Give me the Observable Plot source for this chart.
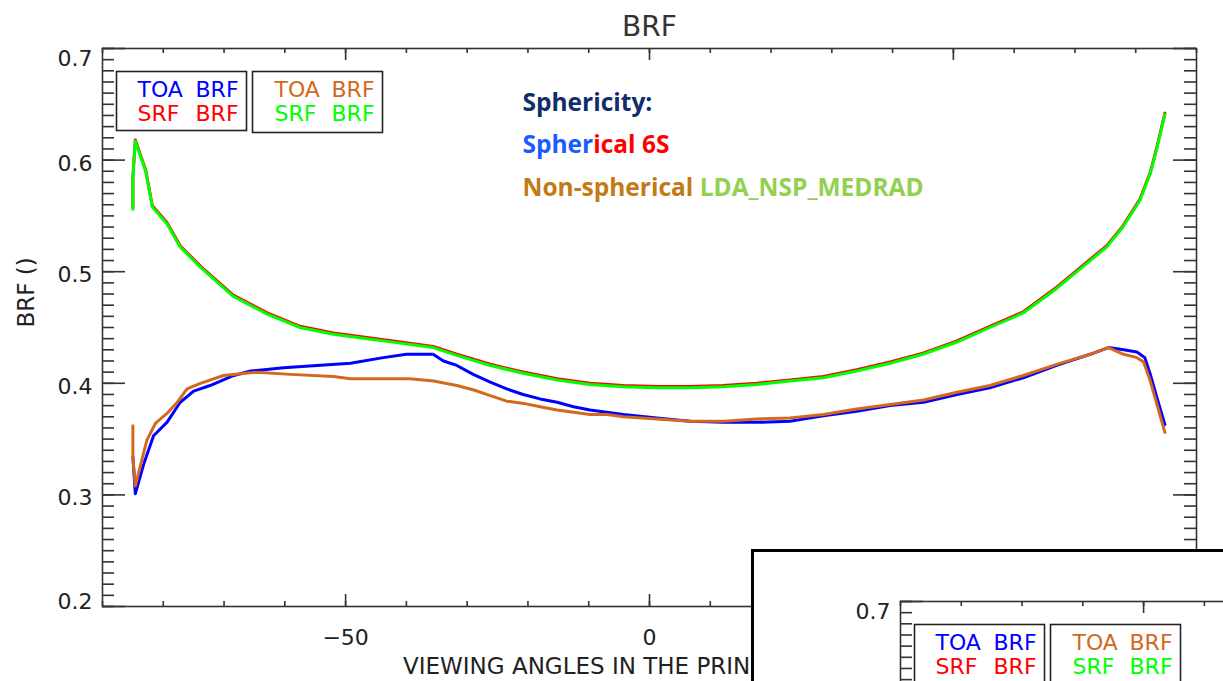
<!DOCTYPE html>
<html><head><meta charset="utf-8">
<script src="https://cdn.jsdelivr.net/npm/d3@7"></script>
<script src="https://cdn.jsdelivr.net/npm/@observablehq/plot@0.6"></script>
<style>
html,body{margin:0;padding:0;background:#fff;}
#wrap{position:relative;width:1223px;height:681px;overflow:hidden;background:#fff}
#main{position:absolute;left:0;top:0;width:1223px;height:681px}
#inset{position:absolute;left:751px;top:549px;width:600px;height:300px;border-left:3px solid #000;border-top:3px solid #000;background:#fff;overflow:hidden}
#insetInner{position:absolute;left:44px;top:1px;width:1223px;height:681px}
#wrap svg{max-width:none !important;width:1223px !important;height:681px !important;display:block}
</style></head><body>
<div id="wrap"><div id="main"></div><div id="inset"><div id="insetInner"></div></div></div>
<script>
// ---- data ----
const srfAngles = [-85.0, -85.0, -84.6, -82.9, -81.8, -79.4, -77.2, -73.9, -68.5, -62.9, -57.5, -52.0, -46.5, -41.0, -35.6, -31.7, -26.2, -20.8, -15.2, -9.8, -4.3, 1.2, 6.7, 12.1, 17.7, 23.1, 28.6, 34.1, 39.6, 45.0, 50.6, 56.0, 61.5, 67.0, 72.5, 75.2, 77.9, 80.7, 82.4, 83.5, 84.8];
const srfSpherical = [0.556, 0.584, 0.617, 0.590, 0.558, 0.543, 0.522, 0.504, 0.478, 0.462, 0.450, 0.444, 0.440, 0.436, 0.432, 0.425, 0.416, 0.409, 0.403, 0.399, 0.397, 0.396, 0.396, 0.397, 0.399, 0.402, 0.405, 0.411, 0.418, 0.426, 0.437, 0.450, 0.463, 0.485, 0.510, 0.522, 0.540, 0.564, 0.588, 0.611, 0.641];
const srfNonSpherical = [0.556, 0.584, 0.617, 0.590, 0.558, 0.543, 0.522, 0.504, 0.478, 0.462, 0.450, 0.444, 0.440, 0.436, 0.432, 0.425, 0.416, 0.409, 0.403, 0.399, 0.397, 0.396, 0.396, 0.397, 0.399, 0.402, 0.405, 0.411, 0.418, 0.426, 0.437, 0.450, 0.463, 0.485, 0.510, 0.522, 0.540, 0.564, 0.588, 0.611, 0.641];

const toaSphAngles = [-85.0, -84.6, -83.2, -81.6, -79.4, -77.2, -75.0, -72.3, -68.4, -65.6, -60.2, -54.7, -49.2, -43.8, -40.0, -35.6, -33.9, -31.7, -29.0, -26.2, -23.5, -20.8, -18.0, -15.2, -12.5, -9.8, -7.0, -4.3, 1.2, 6.7, 12.2, 17.7, 23.1, 28.6, 34.1, 39.6, 45.1, 50.6, 56.0, 61.5, 67.0, 72.5, 75.5, 78.0, 80.2, 81.5, 82.4, 83.5, 84.8];
const toaSpherical = [0.334, 0.301, 0.328, 0.353, 0.365, 0.383, 0.393, 0.398, 0.407, 0.411, 0.414, 0.416, 0.418, 0.423, 0.426, 0.426, 0.420, 0.416, 0.408, 0.401, 0.395, 0.390, 0.386, 0.383, 0.379, 0.376, 0.374, 0.372, 0.369, 0.366, 0.365, 0.365, 0.366, 0.371, 0.375, 0.380, 0.383, 0.390, 0.396, 0.405, 0.416, 0.426, 0.432, 0.430, 0.428, 0.423, 0.408, 0.387, 0.363];

const toaNspAngles = [-85.0, -85.0, -84.6, -82.7, -81.3, -79.4, -77.7, -76.1, -73.9, -70.1, -64.6, -59.1, -52.0, -49.2, -39.4, -35.5, -31.7, -28.9, -26.2, -23.5, -20.7, -18.0, -15.2, -12.5, -9.8, -7.0, -4.3, 1.2, 6.7, 12.2, 17.7, 23.1, 28.6, 34.1, 39.6, 45.1, 50.6, 56.0, 61.5, 67.0, 72.5, 75.5, 78.0, 80.2, 81.3, 82.4, 83.5, 84.8];
const toaNonSpherical = [0.362, 0.333, 0.308, 0.349, 0.364, 0.373, 0.383, 0.395, 0.400, 0.407, 0.410, 0.408, 0.406, 0.404, 0.404, 0.402, 0.398, 0.394, 0.389, 0.384, 0.382, 0.379, 0.376, 0.374, 0.372, 0.372, 0.370, 0.368, 0.366, 0.366, 0.368, 0.369, 0.372, 0.377, 0.381, 0.385, 0.392, 0.398, 0.407, 0.417, 0.426, 0.432, 0.426, 0.423, 0.419, 0.402, 0.381, 0.356];

const xTickLabels = [-50, 0, 50];
const yTickLabels = [0.2, 0.3, 0.4, 0.5, 0.6, 0.7];
const titleText = "BRF";
const xTitle = "VIEWING ANGLES IN THE PRINCIPAL PLANE";
const yTitle = "BRF ()";
const annHeading = "Sphericity:";
const annLine1 = ["Spher", "ical 6S"];
const annLine2 = ["Non-spherical", " LDA_NSP_MEDRAD"];

// ---- layout / style ----
const W = 1223, H = 681, ML = 102, MR = 27, MT = 48, MB = 75;
const PW = W - ML - MR, PH = H - MT - MB;
const AX = "#333";
const C = {blue: "#0000ff", red: "#ff0000", orange: "#d2691e", green: "#00ff00"};
const FONT = "DejaVu Sans";
const ANN_SIZE = 24.5;
const ANN_FONT = "Open Sans";

const measureCtx = document.createElement("canvas").getContext("2d");
function textWidth(s) {
  measureCtx.font = `bold ${ANN_SIZE}px "${ANN_FONT}"`;
  return measureCtx.measureText(s.replace(/^ /, "\u00a0")).width;
}

function series(xs, ys) { return xs.map((x, i) => ({x, y: ys[i]})); }

function chart() {
  const yMinor = d3.range(20, 71).map(d => d / 100);
  const xMinor = d3.range(-90, 91, 10);
  const marks = [];
  const tk = {stroke: AX, strokeWidth: 1.6};
  // y ticks, left & right, pointing inward
  marks.push(Plot.tickY(yMinor, {y: d => d, insetRight: PW - 12, ...tk}));
  marks.push(Plot.tickY(yTickLabels, {y: d => d, insetRight: PW - 23, ...tk}));
  marks.push(Plot.tickY(yMinor, {y: d => d, insetLeft: PW - 12, ...tk}));
  marks.push(Plot.tickY(yTickLabels, {y: d => d, insetLeft: PW - 23, ...tk}));
  // x ticks, bottom & top
  marks.push(Plot.tickX(xMinor, {x: d => d, insetTop: PH - 5, ...tk}));
  marks.push(Plot.tickX(xTickLabels, {x: d => d, insetTop: PH - 12, ...tk}));
  marks.push(Plot.tickX(xMinor, {x: d => d, insetBottom: PH - 5, ...tk}));
  marks.push(Plot.tickX(xTickLabels, {x: d => d, insetBottom: PH - 12, ...tk}));
  marks.push(Plot.frame({stroke: AX, strokeWidth: 1.6}));

  // tick labels
  const lab = {frameAnchor: "left", dx: -10, textAnchor: "end", lineAnchor: "middle", fontSize: 22, fontFamily: FONT, fill: "#222", text: d => d.toFixed(1)};
  marks.push(Plot.text(yTickLabels.filter(d => d > 0.25 && d < 0.65), {y: d => d, dy: 3.5, ...lab}));
  marks.push(Plot.text(yTickLabels.filter(d => d > 0.65), {y: d => d, dy: 10, ...lab}));
  marks.push(Plot.text(yTickLabels.filter(d => d < 0.25), {y: d => d, dy: -4.5, ...lab}));
  marks.push(Plot.text(xTickLabels, {x: d => d, frameAnchor: "bottom", dy: 31, lineAnchor: "middle", fontSize: 22, fontFamily: FONT, fill: "#222", text: d => d3.format("d")(d)}));

  // titles
  marks.push(Plot.text([titleText], {text: d => d, frameAnchor: "top", dy: -13, lineAnchor: "bottom", fontSize: 28, fontFamily: FONT, fill: "#333"}));
  marks.push(Plot.text([xTitle], {text: d => d, frameAnchor: "bottom", dy: 67, lineAnchor: "bottom", fontSize: 23, fontFamily: FONT, fill: "#222"}));
  marks.push(Plot.text([yTitle], {text: d => d, frameAnchor: "left", dx: -76, rotate: -90, lineAnchor: "middle", fontSize: 23, fontFamily: FONT, fill: "#222"}));

  // curves
  marks.push(Plot.line(series(srfAngles, srfSpherical), {x: "x", y: "y", stroke: C.red, strokeWidth: 3, dy: -1.2}));
  marks.push(Plot.line(series(srfAngles, srfNonSpherical), {x: "x", y: "y", stroke: C.green, strokeWidth: 3}));
  marks.push(Plot.line(series(toaSphAngles, toaSpherical), {x: "x", y: "y", stroke: C.blue, strokeWidth: 3}));
  marks.push(Plot.line(series(toaNspAngles, toaNonSpherical), {x: "x", y: "y", stroke: C.orange, strokeWidth: 3}));

  // legend boxes
  marks.push(Plot.frame({stroke: "#222", strokeWidth: 1.6, insetLeft: 14, insetRight: 950, insetTop: 23, insetBottom: 476}));
  marks.push(Plot.frame({stroke: "#222", strokeWidth: 1.6, insetLeft: 150, insetRight: 814, insetTop: 23, insetBottom: 474}));
  const legendWords = [
    {t: "TOA", c: C.blue, dx: 35, dy: 48}, {t: "BRF", c: C.blue, dx: 93, dy: 48},
    {t: "SRF", c: C.red, dx: 35, dy: 72}, {t: "BRF", c: C.red, dx: 93, dy: 72},
    {t: "TOA", c: C.orange, dx: 172, dy: 48}, {t: "BRF", c: C.orange, dx: 229, dy: 48},
    {t: "SRF", c: C.green, dx: 172, dy: 72}, {t: "BRF", c: C.green, dx: 229, dy: 72}
  ];
  for (const w of legendWords) {
    marks.push(Plot.text([w.t], {text: d => d, frameAnchor: "top-left", dx: w.dx, dy: w.dy, textAnchor: "start", lineAnchor: "bottom", fontSize: 22, fontFamily: FONT, fill: w.c}));
  }

  // annotation (coloured runs placed one after another)
  const ann = {text: d => d, frameAnchor: "top-left", textAnchor: "start", lineAnchor: "bottom", fontSize: ANN_SIZE, fontFamily: ANN_FONT, fontWeight: "bold"};
  const x0 = 420;
  marks.push(Plot.text([annHeading], {...ann, dx: x0, dy: 62, fill: "#0f2c6b"}));
  marks.push(Plot.text([annLine1[0]], {...ann, dx: x0, dy: 104, fill: "#1a5cff"}));
  marks.push(Plot.text([annLine1[1]], {...ann, dx: x0 + textWidth(annLine1[0]), dy: 104, fill: "#ff0000"}));
  marks.push(Plot.text([annLine2[0]], {...ann, dx: x0, dy: 147, fill: "#c27a14"}));
  marks.push(Plot.text([annLine2[1].trim()], {...ann, dx: x0 + textWidth(annLine2[0] + " "), dy: 147, fill: "#92d050"}));

  return Plot.plot({
    width: W, height: H,
    marginLeft: ML, marginRight: MR, marginTop: MT, marginBottom: MB,
    x: {domain: [-90, 90], axis: null},
    y: {domain: [0.2, 0.7], axis: null},
    style: {fontFamily: FONT, background: "white", overflow: "visible"},
    marks
  });
}

document.getElementById("main").appendChild(chart());
document.getElementById("insetInner").appendChild(chart());
</script>
</body></html>
